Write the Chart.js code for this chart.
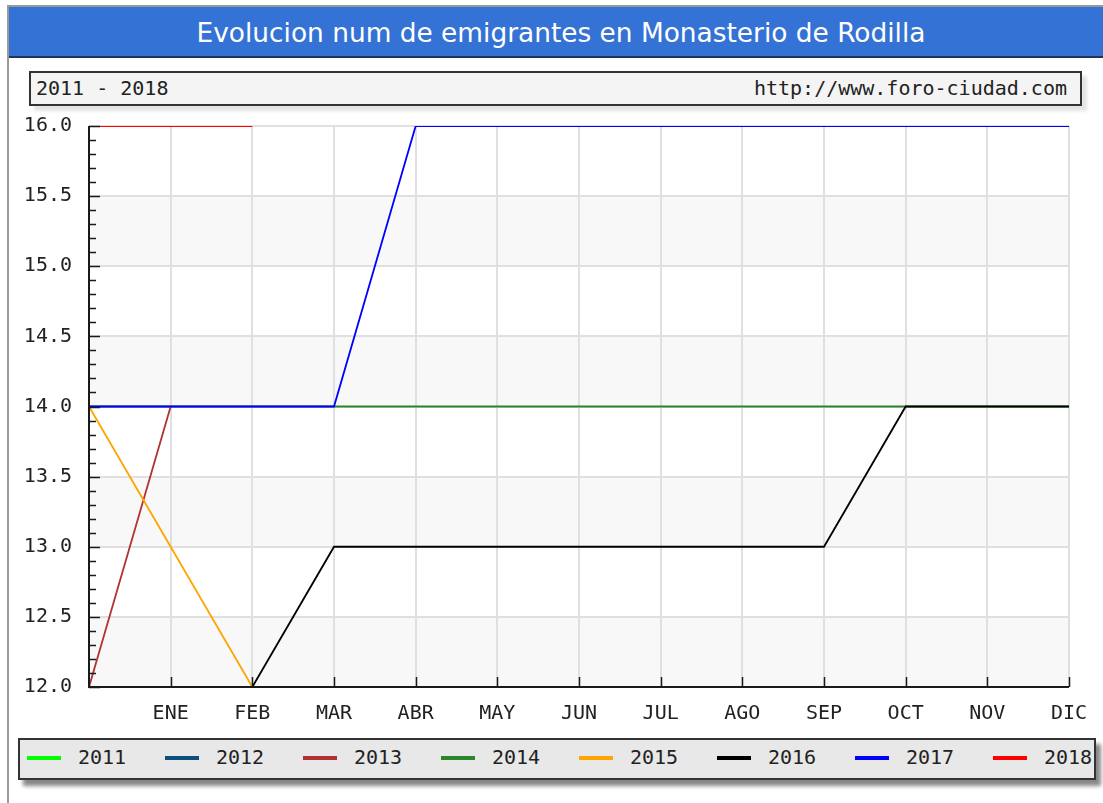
<!DOCTYPE html>
<html>
<head>
<meta charset="utf-8">
<script src="https://cdn.jsdelivr.net/npm/chart.js@4/dist/chart.umd.min.js"></script>
<style>
  html, body { margin: 0; padding: 0; background: #fff; width: 1103px; height: 803px; overflow: hidden; }
  #frame { position: absolute; left: 7px; top: 5px; width: 1110px; height: 820px; border-left: 2px solid #999; border-top: 2px solid #999; box-sizing: border-box; }
  #titlebar { position: absolute; left: 9px; top: 7px; width: 1100px; height: 49px; background: #3473d5; border-bottom: 2px solid #1f3555;
    color: #fff; font-family: "DejaVu Sans", sans-serif; font-size: 26.4px; line-height: 52px; text-align: center; }
  #titlebar span { position: relative; left: 2px; }
  #subbox { position: absolute; left: 29px; top: 71px; width: 1053px; height: 35px; box-sizing: border-box; border: 2px solid #333; background: #f4f4f4;
    box-shadow: 5px 5px 3px #e4e4e4; font-family: "DejaVu Sans Mono", monospace; font-size: 20px; color: #222; }
  #subbox .l { position: absolute; left: 5px; top: 3px; }
  #subbox .r { position: absolute; right: 13px; top: 3px; }
  #legend { position: absolute; left: 18px; top: 738px; width: 1078px; height: 42px; box-sizing: border-box; border: 2px solid #333; background: #e8e8e8;
    box-shadow: 5px 6px 4px #888; font-family: "DejaVu Sans Mono", monospace; font-size: 20px; color: #222; }
  .li { position: absolute; top: 0; height: 38px; }
  .li .sw { position: absolute; top: 16px; width: 34px; height: 4px; }
  .li .tx { position: absolute; top: 5px; }
  #c { position: absolute; left: 0; top: 0; }
</style>
</head>
<body>
<div id="frame"></div>
<div id="titlebar"><span>Evolucion num de emigrantes en Monasterio de Rodilla</span></div>
<div id="subbox"><span class="l">2011 - 2018</span><span class="r">http://www.foro-ciudad.com</span></div>
<div id="legend"></div>
<canvas id="c" width="1103" height="803"></canvas>
<script>
// ---- data ----
const months = ['', 'ENE', 'FEB', 'MAR', 'ABR', 'MAY', 'JUN', 'JUL', 'AGO', 'SEP', 'OCT', 'NOV', 'DIC'];
const years = ['2011', '2012', '2013', '2014', '2015', '2016', '2017', '2018'];
const y2011 = [];
const y2012 = [];
const y2013 = [12, 14];
const y2014 = [14, 14, 14, 14, 14, 14, 14, 14, 14, 14, 14, 14, 14];
const y2015 = [14, 13, 12];
const y2016 = [null, null, 12, 13, 13, 13, 13, 13, 13, 13, 14, 14, 14];
const y2017 = [14, 14, 14, 14, 16, 16, 16, 16, 16, 16, 16, 16, 16];
const y2018 = [16, 16, 16];
const yTicks = [12.0, 12.5, 13.0, 13.5, 14.0, 14.5, 15.0, 15.5, 16.0];
const series = [y2011, y2012, y2013, y2014, y2015, y2016, y2017, y2018];

// ---- styles ----
const lineColors = ['#00ff00', '#0b4f7c', '#b03232', '#2a862a', '#ffa500', '#000000', '#0000ff', '#ff0000'];
const PLOT = { left: 89, right: 1069, top: 126, bottom: 687 };
const monoFont = { family: 'DejaVu Sans Mono', size: 20 };

// legend (HTML, built from the same arrays)
const leg = document.getElementById('legend');
years.forEach((y, i) => {
  const d = document.createElement('div');
  d.className = 'li';
  d.style.left = (7 + i * 138) + 'px';
  d.innerHTML = '<div class="sw" style="left:0;background:' + lineColors[i] + '"></div><div class="tx" style="left:51px">' + y + '</div>';
  leg.appendChild(d);
});

const bandsPlugin = {
  id: 'bands',
  beforeDraw(chart) {
    const { ctx, chartArea: a, scales: { y } } = chart;
    ctx.save();
    ctx.fillStyle = '#f8f8f8';
    for (let i = 0; i < yTicks.length - 1; i += 2) {
      const y1 = y.getPixelForValue(yTicks[i]);
      const y2 = y.getPixelForValue(yTicks[i + 1]);
      ctx.fillRect(a.left, y2, a.right - a.left, y1 - y2);
    }
    ctx.restore();
  }
};

const axesPlugin = {
  id: 'axesDraw',
  afterDatasetsDraw(chart) {
    const { ctx, chartArea: a, scales: { x, y } } = chart;
    ctx.save();
    ctx.strokeStyle = '#1a1a1a';
    ctx.lineWidth = 2;
    ctx.beginPath();
    ctx.moveTo(a.left, a.top); ctx.lineTo(a.left, a.bottom); ctx.lineTo(a.right, a.bottom);
    ctx.stroke();
    ctx.lineWidth = 1.5;
    ctx.beginPath();
    const ymin = yTicks[0], ymax = yTicks[yTicks.length - 1];
    for (let k = 0; k <= Math.round((ymax - ymin) * 10); k++) {
      const v = ymin + k / 10;
      const py = Math.round(y.getPixelForValue(v)) + 0.5;
      const len = (k % 5 === 0) ? 11 : 7;
      ctx.moveTo(a.left, py); ctx.lineTo(a.left + len, py);
    }
    for (let i = 1; i < months.length; i++) {
      const px = Math.round(x.getPixelForValue(i)) + 0.5;
      ctx.moveTo(px, a.bottom); ctx.lineTo(px, a.bottom - 10);
    }
    ctx.stroke();
    ctx.restore();
  }
};

new Chart(document.getElementById('c'), {
  type: 'line',
  data: {
    labels: months,
    datasets: years.map((yr, i) => ({
      label: yr,
      data: series[i],
      borderColor: lineColors[i],
      backgroundColor: lineColors[i],
      borderWidth: 1.8,
      pointRadius: 0,
      tension: 0,
      fill: false,
      order: years.length - i
    }))
  },
  options: {
    responsive: false,
    animation: false,
    events: [],
    layout: { padding: { left: 0, top: PLOT.top, right: 1103 - PLOT.right, bottom: 803 - PLOT.bottom - 40 } },
    plugins: { legend: { display: false }, tooltip: { enabled: false }, title: { display: false } },
    scales: {
      x: {
        type: 'category',
        offset: false,
        grid: { color: '#e0e0e0', lineWidth: 2, drawTicks: false },
        border: { display: false },
        ticks: { autoSkip: false, maxRotation: 0, color: '#222', font: monoFont, padding: 15 },
        afterFit(s) { s.height = 40; }
      },
      y: {
        min: yTicks[0], max: yTicks[yTicks.length - 1],
        grid: { color: '#e0e0e0', lineWidth: 2, drawTicks: false },
        border: { display: false },
        ticks: { stepSize: 0.5, color: '#222', font: monoFont, padding: 17, callback: v => Number(v).toFixed(1) },
        afterFit(s) { s.width = PLOT.left; }
      }
    }
  },
  plugins: [bandsPlugin, axesPlugin]
});
</script>
</body>
</html>
